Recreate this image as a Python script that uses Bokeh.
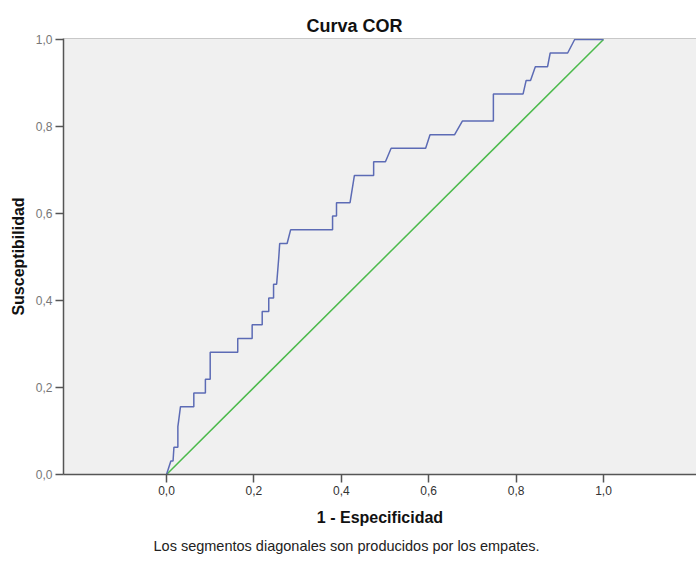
from bokeh.plotting import figure
from bokeh.models import Range1d, FixedTicker, Span, Title
from bokeh.embed import file_html
from bokeh.resources import INLINE

# ROC curve points (1 - specificity, sensitivity)
fpr = [0.0, 0.010, 0.015, 0.017, 0.026, 0.026, 0.028, 0.032, 0.0625, 0.0625,
       0.089, 0.089, 0.100, 0.100, 0.163, 0.163, 0.196, 0.196, 0.219, 0.219,
       0.234, 0.234, 0.245, 0.245, 0.252, 0.257, 0.259, 0.276, 0.284, 0.380,
       0.380, 0.389, 0.389, 0.420, 0.430, 0.474, 0.474, 0.501, 0.514, 0.593,
       0.603, 0.659, 0.677, 0.748, 0.748, 0.816, 0.823, 0.833, 0.844, 0.872,
       0.878, 0.918, 0.934, 1.0]
tpr = [0.0, 0.031, 0.031, 0.0625, 0.0625, 0.110, 0.125, 0.156, 0.156, 0.1875,
       0.1875, 0.219, 0.219, 0.281, 0.281, 0.3125, 0.3125, 0.344, 0.344, 0.375,
       0.375, 0.406, 0.406, 0.4375, 0.4375, 0.500, 0.531, 0.531, 0.5625, 0.5625,
       0.594, 0.594, 0.625, 0.625, 0.6875, 0.6875, 0.719, 0.719, 0.750, 0.750,
       0.781, 0.781, 0.8125, 0.8125, 0.875, 0.875, 0.906, 0.906, 0.9375, 0.9375,
       0.969, 0.969, 1.0, 1.0]

# reference diagonal
ref_x = [0.0, 1.0]
ref_y = [0.0, 1.0]

ticks = [0.0, 0.2, 0.4, 0.6, 0.8, 1.0]
tick_labels = ["0,0", "0,2", "0,4", "0,6", "0,8", "1,0"]

title_text = "Curva COR"
x_label = "1 - Especificidad"
y_label = "Susceptibilidad"
note_text = "Los segmentos diagonales son producidos por los empates."

FONT = "Liberation Sans"

p = figure(width=696, height=561, output_backend="svg", toolbar_location=None,
           x_range=Range1d(-0.2357, 1.2128), y_range=Range1d(0.0, 1.0023),
           min_border_left=63, min_border_right=0, min_border_top=38,
           min_border_bottom=87)

p.background_fill_color = "#f0f0f0"
p.border_fill_color = "white"
p.outline_line_color = None
p.xgrid.visible = False
p.ygrid.visible = False

for ax in (p.xaxis[0], p.yaxis[0]):
    ax.ticker = FixedTicker(ticks=ticks)
    ax.major_label_overrides = dict(zip(ticks, tick_labels))
    ax.minor_tick_line_color = None
    ax.axis_line_color = "#555555"
    ax.axis_line_width = 1.5
    ax.major_tick_line_color = "#555555"
    ax.major_tick_line_width = 1.5
    ax.major_tick_in = 0
    ax.major_tick_out = 8
    ax.major_label_text_font = FONT
    ax.major_label_text_font_size = "12px"
    ax.axis_label_text_font = FONT
    ax.axis_label_text_font_size = "16px"
    ax.axis_label_text_font_style = "bold"
    ax.axis_label_text_color = "#111111"

p.xaxis.major_label_text_color = "#333333"
p.yaxis.major_label_text_color = "#777777"
p.xaxis.major_label_standoff = 3
p.yaxis.major_label_standoff = 3
p.xaxis.axis_label = x_label
p.yaxis.axis_label = y_label
p.xaxis.axis_label_standoff = 11
p.yaxis.axis_label_standoff = 6

# top border of the plot area
p.add_layout(Span(location=1.0023, dimension="width", line_color="#999999",
                  line_width=1))

p.line(ref_x, ref_y, line_color="#4cba4c", line_width=1.5)
p.line(fpr, tpr, line_color="#5c6bb5", line_width=1.5)

p.title.text = title_text
p.title.align = "left"
p.title.offset = 243
p.title.text_font = FONT
p.title.text_font_size = "18px"
p.title.text_font_style = "bold"
p.title.text_color = "#111111"
p.title.standoff = 5

p.add_layout(Title(text=note_text, align="left", offset=90, text_font=FONT,
                   text_font_size="14.5px", text_font_style="normal",
                   text_color="#222222", standoff=15), "below")

open("out.html", "w").write(file_html(p, INLINE))
